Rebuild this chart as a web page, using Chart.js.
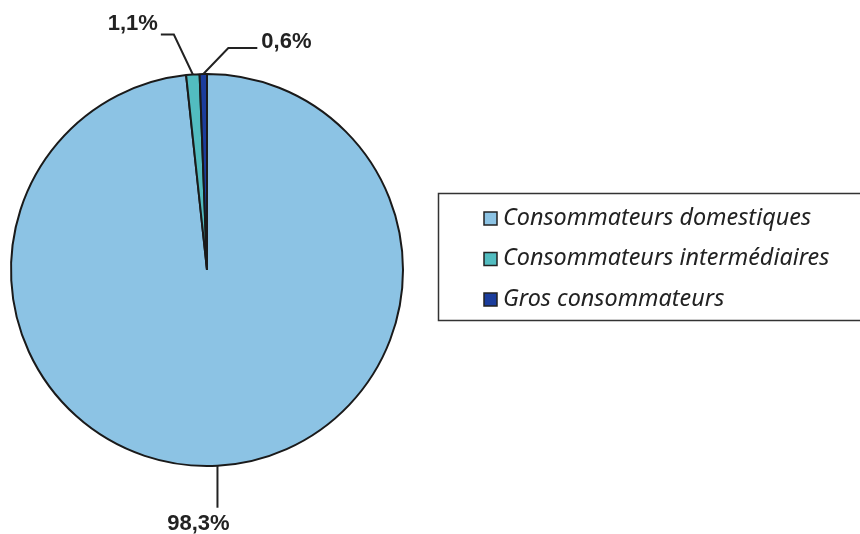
<!DOCTYPE html>
<html>
<head>
<meta charset="utf-8">
<script src="https://cdn.jsdelivr.net/npm/chart.js@4/dist/chart.umd.min.js"></script>
<style>
  html, body { margin: 0; padding: 0; background: #fff; }
  #wrap { width: 860px; height: 534px; }
</style>
</head>
<body>
<div id="wrap"><canvas id="myChart" width="860" height="534"></canvas></div>
<script>
// data
const categories = ["Consommateurs domestiques", "Consommateurs intermédiaires", "Gros consommateurs"];
const shares = [98.3, 1.1, 0.6];
const shareLabels = ["98,3%", "1,1%", "0,6%"];
const colours = ["#8cc3e4", "#52bcc0", "#1b3d9c"];

// leader lines + labels, and the boxed legend on the right
const callouts = {
  id: "callouts",
  afterDraw(chart) {
    const ctx = chart.ctx;
    const arcs = chart.getDatasetMeta(0).data;
    ctx.save();
    ctx.strokeStyle = "#222";
    ctx.lineWidth = 2;
    ctx.fillStyle = "#222";
    ctx.font = "bold 22px 'Liberation Sans', sans-serif";
    ctx.textBaseline = "middle";

    // points on the rim, taken from each slice's middle angle
    const rim = (arc) => {
      const a = (arc.startAngle + arc.endAngle) / 2;
      return [arc.x + Math.cos(a) * arc.outerRadius, arc.y + Math.sin(a) * arc.outerRadius];
    };

    // 98,3% below
    let [x, y] = rim(arcs[0]);
    ctx.beginPath(); ctx.moveTo(x, y); ctx.lineTo(x, y + 42); ctx.stroke();
    ctx.textAlign = "center";
    ctx.fillText(shareLabels[0], x - 19, y + 58);

    // 1,1% top left
    [x, y] = rim(arcs[1]);
    ctx.beginPath(); ctx.moveTo(x, y); ctx.lineTo(x - 19, y - 40); ctx.lineTo(x - 32, y - 40); ctx.stroke();
    ctx.textAlign = "right";
    ctx.fillText(shareLabels[1], x - 35, y - 51);

    // 0,6% top right
    [x, y] = rim(arcs[2]);
    ctx.beginPath(); ctx.moveTo(x, y); ctx.lineTo(x + 25, y - 26); ctx.lineTo(x + 54, y - 26); ctx.stroke();
    ctx.textAlign = "left";
    ctx.fillText(shareLabels[2], x + 58, y - 32);

    // legend box
    ctx.lineWidth = 1.5;
    ctx.strokeStyle = "#333";
    ctx.strokeRect(438.5, 193.5, 440, 127);
    ctx.font = "italic 23.4px 'Noto Sans', sans-serif";
    ctx.textAlign = "left";
    categories.forEach((c, i) => {
      const ly = 218 + i * 40.5;
      ctx.fillStyle = colours[i];
      ctx.fillRect(484, ly - 6, 13, 13);
      ctx.strokeStyle = "#222";
      ctx.lineWidth = 1.5;
      ctx.strokeRect(484, ly - 6, 13, 13);
      ctx.fillStyle = "#222";
      ctx.fillText(c, 503, ly);
    });
    ctx.restore();
  }
};

new Chart(document.getElementById("myChart"), {
  type: "pie",
  data: {
    labels: categories,
    datasets: [{
      data: shares,
      backgroundColor: colours,
      borderColor: "#1a1a1a",
      borderWidth: 2,
      hoverOffset: 0
    }]
  },
  options: {
    responsive: false,
    animation: false,
    layout: { padding: { left: 10, top: 73, bottom: 67, right: 456 } },
    plugins: { legend: { display: false }, tooltip: { enabled: false } }
  },
  plugins: [callouts]
});
</script>
</body>
</html>
